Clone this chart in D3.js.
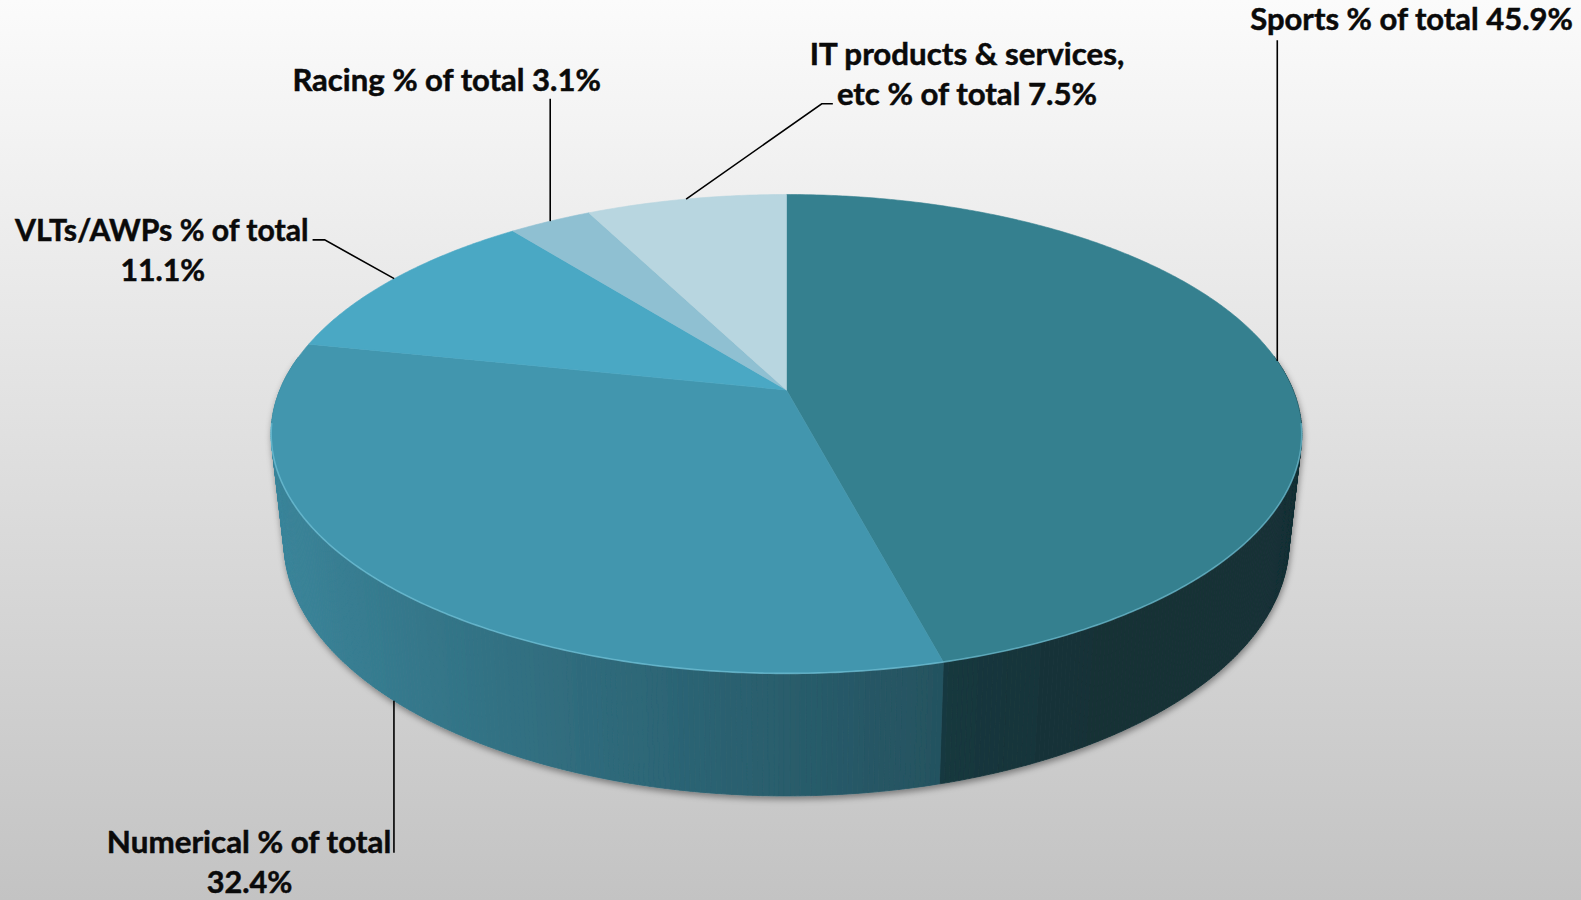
<!DOCTYPE html>
<html>
<head>
<meta charset="utf-8">
<script src="https://cdn.jsdelivr.net/npm/d3@7"></script>
<style>
  html, body { margin: 0; padding: 0; overflow: hidden; background: #fff; }
  svg { display: block; }
</style>
</head>
<body>
<svg id="chart" width="1581" height="900" viewBox="0 0 1568 893" preserveAspectRatio="none"></svg>
<script>
// ---- data ----
const categories = ["Sports", "Numerical", "VLTs/AWPs", "Racing", "IT products & services, etc"];
const values = [45.9, 32.4, 11.1, 3.1, 7.5];
const labelLines = [
  ["Sports % of total 45.9%"],
  ["Numerical % of total", "32.4%"],
  ["VLTs/AWPs % of total", "11.1%"],
  ["Racing % of total 3.1%"],
  ["IT products & services,", "etc % of total 7.5%"]
];

// ---- styles / layout ----
const topColors = ["#35808f", "#4296ae", "#4aa8c4", "#8fc0d2", "#b8d6e0"];
const wallDark = [0.8, 1, 1, 1, 1];
const labelLayout = [
  { cx: [1400], y: [30], w: [320], anchor: "top", bend: [[null, 40]] },
  { cx: [247, 247.5], y: [846, 886], w: [282, 85], anchor: "bottom", bend: [[null, 846]] },
  { cx: [160.5, 161.5], y: [239, 279], w: [291, 84], anchor: "top", bend: [[322, 238], [310, 238]] },
  { cx: [443], y: [90], w: [306], anchor: "top", bend: [[null, 98]] },
  { cx: [959, 959], y: [64, 104], w: [312, 258], anchor: "top", bend: [[815, 103], [826, 103]] }
];

const svg = d3.select("#chart");
const defs = svg.append("defs");

const bg = defs.append("linearGradient").attr("id", "bg").attr("x1", 0).attr("y1", 0).attr("x2", 0).attr("y2", 1);
bg.append("stop").attr("offset", "0%").attr("stop-color", "#fbfbfb");
bg.append("stop").attr("offset", "100%").attr("stop-color", "#c3c3c3");
svg.append("rect").attr("width", 1568).attr("height", 893).attr("fill", "url(#bg)");

const sh = defs.append("filter").attr("id", "shadow").attr("x", "-10%").attr("y", "-10%").attr("width", "120%").attr("height", "130%");
sh.append("feDropShadow").attr("dx", 1).attr("dy", 3).attr("stdDeviation", 3)
  .attr("flood-color", "#000").attr("flood-opacity", 0.4);

// ---- projection (perspective-tilted disc) ----
const CX = 780, CY = 387, R = 502.4, S = 229.6, K = -0.1834, H = 105, SB = 0.975;
function proj(a, bottom) {
  const u = Math.sin(a), v = -Math.cos(a), w = 1 + K * v;
  if (!bottom) return [CX + R * u / w, CY + S * v / w];
  return [CX + R * u / w * SB, CY + S * v / w * SB + H / w];
}

const pie = d3.pie().sort(null).value(d => d)(values);

// ---- walls ----
const step = Math.PI / 360;
const segs = [];
pie.forEach((p, i) => {
  const n = Math.max(1, Math.ceil((p.endAngle - p.startAngle) / step));
  const da = (p.endAngle - p.startAngle) / n;
  for (let j = 0; j < n; j++) {
    const a0 = p.startAngle + j * da, a1 = a0 + da, am = (a0 + a1) / 2;
    const v = -Math.cos(am);
    if (v < -0.15) continue;
    const u = Math.sin(am);
    let f = (0.62 - 0.28 * u) * wallDark[i];
    if (i === 0) f = Math.max(0.38, f);
    const c = d3.rgb(topColors[i]);
    const col = d3.rgb(c.r * f, c.g * f, c.b * f).formatHex();
    segs.push({ v, col, pts: [proj(a0, false), proj(a1, false), proj(a1, true), proj(a0, true)] });
  }
});
segs.sort((a, b) => a.v - b.v);
const wallG = svg.append("g").attr("filter", "url(#shadow)");
wallG.selectAll("path.wall").data(segs).join("path")
  .attr("class", "wall")
  .attr("d", d => "M" + d.pts.map(p => p.join(",")).join("L") + "Z")
  .attr("fill", d => d.col).attr("stroke", d => d.col).attr("stroke-width", 0.8);

// ---- top faces ----
function topPath(p) {
  const n = Math.max(2, Math.ceil((p.endAngle - p.startAngle) / step));
  const pts = [[CX, CY]];
  for (let j = 0; j <= n; j++) pts.push(proj(p.startAngle + (p.endAngle - p.startAngle) * j / n, false));
  return "M" + pts.map(q => q.join(",")).join("L") + "Z";
}
svg.append("g").selectAll("path.top").data(pie).join("path")
  .attr("class", "top")
  .attr("d", topPath)
  .attr("fill", (d, i) => topColors[i])
  .attr("stroke", (d, i) => topColors[i]).attr("stroke-width", 0.6);

const rimPts = d3.range(98, 262.5, 0.5).map(deg => proj(deg * Math.PI / 180, false));
svg.append("path")
  .attr("d", d3.line()(rimPts))
  .attr("fill", "none").attr("stroke", "#7fd0e6").attr("stroke-opacity", 0.55).attr("stroke-width", 1.6);

// ---- leader lines and labels ----
const lab = svg.append("g");
pie.forEach((p, i) => {
  const L = labelLayout[i];
  const am = (p.startAngle + p.endAngle) / 2;
  const start = proj(am, L.anchor === "bottom");
  const pts = [start];
  L.bend.forEach(b => pts.push([b[0] === null ? start[0] : b[0], b[1]]));
  lab.append("path").attr("d", d3.line()(pts))
    .attr("fill", "none").attr("stroke", "#000").attr("stroke-width", 1.6);
  labelLines[i].forEach((t, k) => {
    lab.append("text")
      .attr("x", L.cx[k]).attr("y", L.y[k])
      .attr("text-anchor", "middle")
      .attr("font-family", "Lato, 'Open Sans', sans-serif")
      .attr("font-weight", "bold")
      .attr("font-size", 31)
      .attr("fill", "#0a0a0a")
      .attr("stroke", "#0a0a0a").attr("stroke-width", 0.5)
      .attr("textLength", L.w[k])
      .attr("lengthAdjust", "spacingAndGlyphs")
      .text(t);
  });
});
</script>
</body>
</html>
